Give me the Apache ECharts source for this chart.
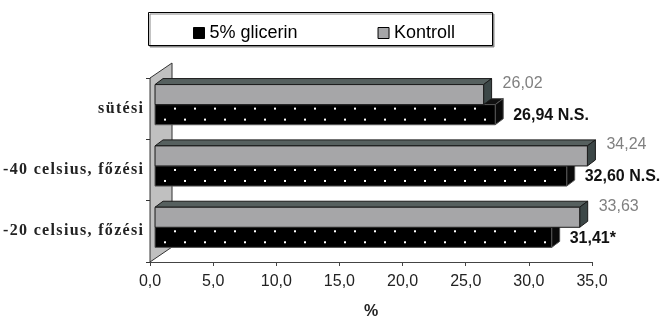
<!DOCTYPE html>
<html>
<head>
<meta charset="utf-8">
<script src="https://cdn.jsdelivr.net/npm/echarts@6/dist/echarts.min.js"></script>
<style>html,body{margin:0;padding:0;background:#fff}#c{width:663px;height:325px}</style>
</head>
<body>
<div id="c"></div>
<script>
const categories = ['sütési', '-40 celsius, főzési', '-20 celsius, főzési'];
const glicerin = [26.94, 32.60, 31.41];
const kontroll = [26.02, 34.24, 33.63];
const glicerinNotes = [' N.S.', ' N.S.', '*'];
const seriesNames = ['5% glicerin', 'Kontroll'];
const xMin = 0, xMax = 35, xStep = 5;

const DX = 8, DY = 6;
function fmt(v, d) { return v.toFixed(d).replace('.', ','); }
function spaced(s) { return s.split('').join('\u200A'); }

function barRender(kind) {
  return function (params, api) {
    const v = api.value(0);
    const ci = api.value(1);
    const p0 = api.coord([0, ci]);
    const p1 = api.coord([v, ci]);
    const band = api.size([0, 1])[1];
    const c = p0[1];
    const xs = p0[0] + 5, xe = p1[0] + 5;
    let top, bottom;
    if (kind === 'k') { top = c - band * 0.393; bottom = c - band * 0.066; }
    else { top = c - band * 0.066; bottom = c + band * 0.262; }
    const front = kind === 'k' ? '#a6a6a8' : '#000';
    const topC = kind === 'k' ? '#56605f' : '#111';
    const sideC = kind === 'k' ? '#3c4747' : '#0a0a0a';
    const stroke = kind === 'k' ? '#1a1a1a' : '#555';
    const children = [
      { type: 'polygon', shape: { points: [[xs, top], [xs + DX, top - DY], [xe + DX, top - DY], [xe, top]] },
        style: { fill: topC, stroke: stroke, lineWidth: 1 } },
      { type: 'polygon', shape: { points: [[xe, top], [xe + DX, top - DY], [xe + DX, bottom - DY], [xe, bottom]] },
        style: { fill: sideC, stroke: stroke, lineWidth: 1 } },
      { type: 'rect', shape: { x: xs, y: top, width: xe - xs, height: bottom - top },
        style: { fill: front, stroke: stroke, lineWidth: 1 } }
    ];
    if (kind === 'g') {
      const rows = [[top + 4, 20], [top + 15, 10]];
      rows.forEach(function (r) {
        for (let x = xs + r[1]; x < xe - 2; x += 20) {
          children.push({ type: 'rect', shape: { x: x - 1, y: r[0] - 1, width: 2, height: 2 },
            style: { fill: '#fff' } });
        }
      });
      children.push({ type: 'text', x: xe + 18, y: (top + bottom) / 2 + 1,
        style: { text: fmt(v, 2) + glicerinNotes[ci], fill: '#111', font: 'bold 16px "Liberation Sans", Arial, sans-serif',
          align: 'left', verticalAlign: 'middle' } });
    } else {
      children.push({ type: 'text', x: xe + 19, y: top - 1,
        style: { text: fmt(v, 2), fill: '#808080', font: '16px "Liberation Sans", Arial, sans-serif',
          align: 'left', verticalAlign: 'middle' } });
    }
    return { type: 'group', children: children };
  };
}

function wallRender(params, api) {
  const p = api.coord([0, 0]);
  const band = api.size([0, 1])[1];
  const top = p[1] - band / 2;
  const bottom = top + band * categories.length;
  const x0 = p[0];
  return { type: 'polygon', shape: { points: [[x0, top], [x0 + 22, top - 15], [x0 + 22, bottom - 15], [x0, bottom]] },
    style: { fill: '#c0c0c0', stroke: '#333', lineWidth: 1 } };
}

const chart = echarts.init(document.getElementById('c'), null, { renderer: 'canvas' });
chart.setOption({
  animation: false,
  backgroundColor: '#fff',
  graphic: [
    { type: 'rect', shape: { x: 148.5, y: 12.5, width: 344, height: 33 },
      style: { fill: '#fff', stroke: '#000', lineWidth: 1, shadowColor: '#888', shadowOffsetX: 1.5, shadowOffsetY: 1.5 }, z: 0 }
  ],
  legend: {
    left: 188, top: 19, itemGap: 80, itemWidth: 11, itemHeight: 11,
    textStyle: { fontSize: 18, color: '#000', fontFamily: '"Liberation Sans", Arial, sans-serif' },
    data: [
      { name: seriesNames[0], icon: 'rect', itemStyle: { color: '#000', borderColor: '#000', borderWidth: 1 } },
      { name: seriesNames[1], icon: 'rect', itemStyle: { color: '#a6a6a8', borderColor: '#000', borderWidth: 1 } }
    ],
    z: 5
  },
  grid: { left: 150, right: 71, top: 78, bottom: 63, containLabel: false },
  xAxis: {
    type: 'value', min: xMin, max: xMax, interval: xStep,
    axisLine: { show: true, lineStyle: { color: '#444', width: 1 } },
    axisTick: { show: true, length: 4, lineStyle: { color: '#444' } },
    splitLine: { show: false },
    axisLabel: { fontSize: 16, color: '#222', margin: 12, fontFamily: '"Liberation Sans", Arial, sans-serif',
      formatter: function (v) { return fmt(v, 1); } },
    name: '%', nameLocation: 'middle', nameGap: 42,
    nameTextStyle: { fontSize: 16, fontWeight: 'bold', color: '#222', fontFamily: '"Liberation Sans", Arial, sans-serif' }
  },
  yAxis: {
    type: 'category', data: categories, inverse: true,
    axisLine: { show: true, lineStyle: { color: '#333' } },
    axisTick: { show: true, length: 4, lineStyle: { color: '#333' } },
    axisLabel: { fontSize: 16, fontWeight: 'bold', color: '#222', margin: 7,
      fontFamily: '"Liberation Serif", "Times New Roman", serif',
      formatter: function (s) { return spaced(s); } }
  },
  series: [
    { type: 'custom', name: 'wall', renderItem: wallRender, data: [[0, 0]], encode: { x: 0, y: 1 }, z: 1, silent: true },
    { type: 'custom', name: seriesNames[0], renderItem: barRender('g'), itemStyle: { color: '#000' },
      data: glicerin.map(function (v, i) { return [v, i]; }), encode: { x: 0, y: 1 }, z: 2 },
    { type: 'custom', name: seriesNames[1], renderItem: barRender('k'), itemStyle: { color: '#a6a6a8' },
      data: kontroll.map(function (v, i) { return [v, i]; }), encode: { x: 0, y: 1 }, z: 2 }
  ]
});
</script>
</body>
</html>
